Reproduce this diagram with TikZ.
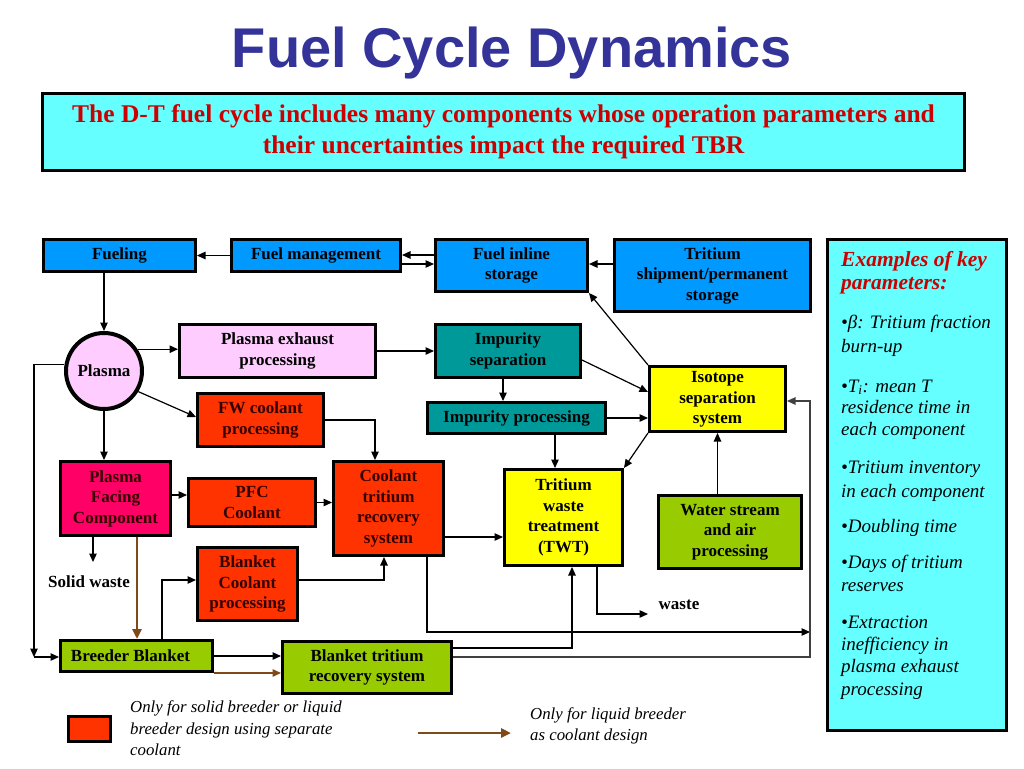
\documentclass[tikz,border=0pt]{standalone}
\usepackage{fontspec}
\setmainfont{Liberation Serif}
\newfontfamily\headfont{Liberation Sans}
\usetikzlibrary{arrows.meta,calc}
\definecolor{titleblue}{HTML}{333399}
\definecolor{capred}{HTML}{CC0000}
\definecolor{panelcyan}{HTML}{66FFFF}
\definecolor{fuelblue}{HTML}{0099FF}
\definecolor{plasmapink}{HTML}{FFCCFF}
\definecolor{impteal}{HTML}{009999}
\definecolor{isoyellow}{HTML}{FFFF00}
\definecolor{coolred}{HTML}{FF3300}
\definecolor{pfcmagenta}{HTML}{FF0066}
\definecolor{blanketgreen}{HTML}{99CC00}
\definecolor{darkred}{HTML}{330000}
\definecolor{breederbrown}{HTML}{7F4A17}
\tikzset{>={Triangle[length=8.5pt,width=7.5pt]}}
\tikzset{
  box/.style={draw, line width=3pt, inner sep=0pt, align=center,
    font=\fontsize{17}{20.5}\selectfont\bfseries},
  link/.style={->, line width=1.2pt},
  brownlink/.style={-{Triangle[length=10pt,width=9pt]}, line width=2.6pt, draw=breederbrown},
  keyline/.style={anchor=base west, inner sep=0pt, font=\fontsize{19}{23}\selectfont\itshape},
  legendtext/.style={anchor=west, inner sep=0pt, align=left,
    font=\fontsize{16.8}{21.5}\selectfont\itshape}
}

\begin{document}
\begin{tikzpicture}[x=1pt,y=-1pt]
        \useasboundingbox (0,0) rectangle (1024,768);
        % heading
        \node[anchor=base, inner sep=0pt, text=titleblue,
          font=\headfont\bfseries\fontsize{56}{60}\selectfont] (title) at (512,67) {Fuel Cycle Dynamics};
        \node[draw, line width=3pt, fill=panelcyan, minimum width=922, minimum height=77,
          align=center, text=capred, font=\fontsize{25.5}{31}\selectfont\bfseries] (intro) at (503.5,132)
          {The D-T fuel cycle includes many components whose operation parameters and\\
           their uncertainties impact the required TBR};
        % components
        \node[box, fill=fuelblue, minimum width=152, minimum height=32] (fuel) at (119.5,255.5) {Fueling};
        \node[box, fill=fuelblue, minimum width=169, minimum height=32] (fman) at (316,255.5) {Fuel management};
        \node[box, fill=fuelblue, minimum width=152, minimum height=52] (finl) at (511.5,265.5) {Fuel inline\\storage};
        \node[box, fill=fuelblue, minimum width=196, minimum height=72] (tship) at (712.5,275.5) {Tritium\\shipment/permanent\\storage};
        \node[circle, draw, line width=4pt, fill=plasmapink, minimum size=76, inner sep=0pt,
          font=\fontsize{17}{20.5}\selectfont\bfseries] (plasma) at (104,371) {Plasma};
        \node[box, fill=plasmapink, minimum width=196, minimum height=53] (pexh) at (277.5,351) {Plasma exhaust\\processing};
        \node[box, fill=impteal, minimum width=145, minimum height=53] (isep) at (508,351) {Impurity\\separation};
        \node[box, fill=impteal, minimum width=178, minimum height=31] (iproc) at (516.5,418) {Impurity processing};
        \node[box, fill=isoyellow, minimum width=136, minimum height=65] (isoss) at (717.5,399) {\raisebox{4pt}{\begin{tabular}{@{}c@{}}Isotope\\separation\\system\end{tabular}}};
        \node[box, fill=coolred, text=darkred, minimum width=126, minimum height=53] (fwc) at (260.5,420) {FW coolant\\processing};
        \node[box, fill=pfcmagenta, text=darkred, minimum width=110, minimum height=74] (pfc) at (115.5,498.5) {Plasma\\Facing\\Component};
        \node[box, fill=coolred, text=darkred, minimum width=127, minimum height=48] (pfcc) at (252,502.5) {PFC\\Coolant};
        \node[box, fill=coolred, text=darkred, minimum width=110, minimum height=94] (ctr) at (388.5,508.5) {Coolant\\tritium\\recovery\\system};
        \node[box, fill=coolred, text=darkred, minimum width=100, minimum height=73] (bcp) at (247.5,584) {Blanket\\Coolant\\processing};
        \node[box, fill=isoyellow, minimum width=118, minimum height=96] (twt) at (563.5,517.5) {Tritium\\waste\\treatment\\(TWT)};
        \node[box, fill=blanketgreen, minimum width=143, minimum height=73] (wsap) at (730,532) {Water stream\\and air\\processing};
        \node[box, fill=blanketgreen, minimum width=152, minimum height=31] (bb) at (136.5,656) {\hspace*{-12pt}Breeder Blanket};
        \node[box, fill=blanketgreen, minimum width=169, minimum height=52] (btr) at (367,667.5) {Blanket tritium\\recovery system};
        \node[inner sep=0pt, font=\fontsize{17}{20.5}\selectfont\bfseries] (swaste) at (89,582) {Solid waste};
        \node[inner sep=0pt, font=\fontsize{17}{20.5}\selectfont\bfseries] (waste) at (679,605) {waste};
        % loose ends
        \coordinate (swin) at (93,562);
        \coordinate (wastein) at (648,614);
        \coordinate (lftcorner) at (34,657);
        \coordinate (railtop) at (810,401);
        \coordinate (railhit) at (810,632);
        % flows
        \draw[link] (fman.west) -- (fuel.east);
        \draw[link] (finl.west |- 0,255) -- (fman.east |- 0,255);
        \draw[link] (fman.east |- 0,264) -- (finl.west |- 0,264);
        \draw[link] (tship.west |- 0,264) -- (finl.east |- 0,264);
        \draw[link] (isoss.north west) -- (finl.south east);
        \draw[link] (plasma.north |- fuel.south) -- (plasma.north);
        \draw[link] (plasma.33) -- (pexh.west |- plasma.33);
        \draw[link] (pexh.east) -- (isep.west);
        \draw[link] (isep.east |- 0,360) -- (isoss.west |- 0,392);
        \draw[link] (isep.south -| 503,0) -- (iproc.north -| 503,0);
        \draw[link] (iproc.east) -- (iproc.east -| isoss.west);
        \draw[link] (iproc.south -| 555,0) -- (twt.north -| 555,0);
        \draw[link] (isoss.south west) -- (twt.north east);
        \draw[link] (wsap.north -| isoss.south) -- (isoss.south);
        \draw[link] (plasma.-31) -- (fwc.west |- 0,417);
        \draw[link] (fwc.east) -| ([xshift=-13.5pt]ctr.north);
        \draw[link] (plasma.south) -- (plasma.south |- pfc.north);
        \draw[link] (pfc.east |- 0,495) -- (pfcc.west |- 0,495);
        \draw[link] (pfcc.east) -- (pfcc.east -| ctr.west);
        \draw[link] (pfc.south -| swin) -- (swin);
        \draw[brownlink] (pfc.south -| 137,0) -- (bb.north -| 137,0);
        \draw[link] (bb.north -| 162,0) |- (bcp.west |- 0,580);
        \draw[link] (bcp.east |- 0,580) -| (ctr.south -| 384,0);
        \draw[link] (plasma.171) -| (lftcorner);
        \draw[link] (lftcorner) -- (bb.west |- lftcorner);
        \draw[link] (bb.east) -- (bb.east -| btr.west);
        \draw[->, line width=1.4pt, draw=breederbrown, fill=breederbrown] (bb.east |- 0,673) -- (btr.west |- 0,673);
        \draw[link] (ctr.east |- 0,537) -- (twt.west |- 0,537);
        \draw[link] (ctr.south -| 427,0) |- (railhit);
        \draw[link, draw=black!75] (btr.east |- 0,657) -| (railtop) -- (isoss.east |- railtop);
        \draw[link] (btr.east |- 0,648) -| (twt.south -| 572,0);
        \draw[link] (twt.south -| 597,0) |- (wastein);
        % key parameters
        \node[draw, line width=3pt, fill=panelcyan, minimum width=179, minimum height=491] (panel) at (917,485) {};
        \node[keyline, text=capred, font=\fontsize{21.5}{23}\selectfont\bfseries\itshape] (key1) at (841,266) {Examples of key};
        \node[keyline, text=capred, font=\fontsize{21.5}{23}\selectfont\bfseries\itshape] (key2) at (841,289) {parameters:};
        \node[keyline] (key3) at (841,328) {•β: Tritium fraction};
        \node[keyline] (key4) at (841,352) {burn-up};
        \node[keyline] (key5) at (841,392) {•T\textsubscript{i}: mean T};
        \node[keyline] (key6) at (841,413) {residence time in};
        \node[keyline] (key7) at (841,435) {each component};
        \node[keyline] (key8) at (841,473) {•Tritium inventory};
        \node[keyline] (key9) at (841,497) {in each component};
        \node[keyline] (key10) at (841,532) {•Doubling time};
        \node[keyline] (key11) at (841,568) {•Days of tritium};
        \node[keyline] (key12) at (841,591) {reserves};
        \node[keyline] (key13) at (841,628) {•Extraction};
        \node[keyline] (key14) at (841,650) {inefficiency in};
        \node[keyline] (key15) at (841,672) {plasma exhaust};
        \node[keyline] (key16) at (841,695) {processing};
        % legend
        \node[draw, line width=3pt, fill=coolred, minimum width=42, minimum height=25] (legsq) at (89.5,729) {};
        \node[legendtext] (legsqtext) at (130,728.5) {Only for solid breeder or liquid\\breeder design using separate\\coolant};
        \coordinate (legfrom) at (418,733);
        \coordinate (legto) at (511,733);
        \draw[brownlink] (legfrom) -- (legto);
        \node[legendtext] (legarrowtext) at (530,726) {Only for liquid breeder\\as coolant design};
      \end{tikzpicture}
\end{document}
